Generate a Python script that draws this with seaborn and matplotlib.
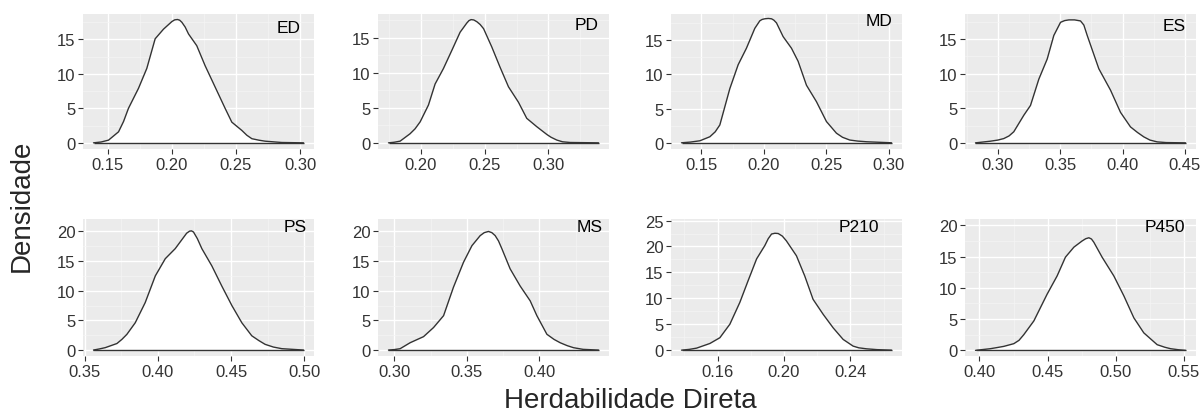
import pandas as pd
import seaborn as sns
import matplotlib.pyplot as plt
from matplotlib.ticker import MultipleLocator, AutoMinorLocator, FormatStrFormatter

# ----- Density curves -----
ed_x = [0.1391, 0.1450, 0.1508, 0.1586, 0.1625, 0.1663, 0.1741, 0.1806, 0.1871, 0.1936, 0.2001, 0.2023,
        0.2045, 0.2062, 0.2079, 0.2105, 0.2131, 0.2195, 0.2260, 0.2338, 0.2416, 0.2468, 0.2546, 0.2585,
        0.2624, 0.2680, 0.2727, 0.2857, 0.3026]
ed_y = [0.0, 0.12, 0.39, 1.6, 3.1, 5.0, 7.9, 10.8, 15.1, 16.5, 17.6, 17.85,
        17.9, 17.8, 17.5, 16.8, 15.8, 14.1, 11.2, 8.1, 5.0, 3.0, 1.8, 1.1,
        0.6, 0.38, 0.24, 0.05, 0.0]

pd_x = [0.1747, 0.1790, 0.1838, 0.1916, 0.1955, 0.1995, 0.2060, 0.2112, 0.2177, 0.2243, 0.2308, 0.2360,
        0.2377, 0.2394, 0.2415, 0.2439, 0.2465, 0.2492, 0.2556, 0.2621, 0.2687, 0.2765, 0.2830, 0.2909,
        0.2987, 0.3020, 0.3065, 0.3110, 0.3170, 0.3392]
pd_y = [0.0, 0.08, 0.24, 1.3, 2.0, 3.0, 5.4, 8.4, 10.6, 13.2, 15.8, 17.1,
        17.45, 17.6, 17.55, 17.3, 16.9, 16.3, 13.7, 10.8, 8.0, 5.8, 3.5, 2.3,
        1.2, 0.8, 0.4, 0.15, 0.05, 0.0]

md_x = [0.1340, 0.1410, 0.1487, 0.1567, 0.1610, 0.1647, 0.1727, 0.1794, 0.1860, 0.1927, 0.1967, 0.1985,
        0.2007, 0.2035, 0.2061, 0.2080, 0.2101, 0.2154, 0.2221, 0.2274, 0.2341, 0.2421, 0.2501, 0.2581,
        0.2630, 0.2688, 0.2750, 0.2822, 0.3022]
md_y = [0.0, 0.1, 0.29, 0.88, 1.6, 2.6, 7.9, 11.4, 13.8, 16.7, 17.8, 18.0,
        18.1, 18.15, 18.1, 17.9, 17.5, 15.5, 13.8, 11.9, 8.4, 6.0, 3.1, 1.4,
        0.8, 0.4, 0.25, 0.15, 0.0]

es_x = [0.2821, 0.2941, 0.3000, 0.3048, 0.3090, 0.3128, 0.3209, 0.3262, 0.3329, 0.3396, 0.3449, 0.3503,
        0.3536, 0.3570, 0.3615, 0.3663, 0.3690, 0.3717, 0.3810, 0.3904, 0.3984, 0.4064, 0.4120, 0.4171,
        0.4220, 0.4278, 0.4350, 0.4505]
es_y = [0.0, 0.24, 0.4, 0.62, 1.0, 1.6, 4.0, 5.4, 9.2, 12.1, 15.5, 17.4,
        17.65, 17.75, 17.75, 17.6, 17.0, 15.5, 10.7, 7.6, 4.4, 2.3, 1.5, 0.86,
        0.4, 0.14, 0.04, 0.0]

ps_x = [0.3561, 0.3600, 0.3641, 0.3721, 0.3755, 0.3789, 0.3846, 0.3914, 0.3983, 0.4051, 0.4119, 0.4176,
        0.4197, 0.4217, 0.4230, 0.4244, 0.4270, 0.4301, 0.4369, 0.4437, 0.4506, 0.4574, 0.4642, 0.4690,
        0.4733, 0.4790, 0.4847, 0.4995]
ps_y = [0.0, 0.18, 0.4, 1.1, 1.8, 2.65, 4.6, 8.0, 12.5, 15.4, 17.1, 19.0,
        19.7, 20.05, 20.1, 19.9, 18.8, 17.1, 14.2, 10.8, 7.5, 4.6, 2.4, 1.6,
        0.96, 0.5, 0.23, 0.0]

ms_x = [0.2961, 0.3000, 0.3041, 0.3110, 0.3202, 0.3271, 0.3340, 0.3408, 0.3477, 0.3535, 0.3592, 0.3620,
        0.3649, 0.3672, 0.3695, 0.3718, 0.3741, 0.3798, 0.3867, 0.3936, 0.3982, 0.4051, 0.4100, 0.4142,
        0.4190, 0.4234, 0.4300, 0.4406]
ms_y = [0.0, 0.08, 0.23, 1.24, 2.26, 3.8, 5.8, 10.6, 14.8, 17.6, 19.3, 19.8,
        20.0, 19.8, 19.3, 18.4, 17.1, 13.7, 10.8, 8.3, 5.8, 2.66, 1.8, 1.24,
        0.75, 0.4, 0.12, 0.0]

p210_x = [0.1383, 0.1430, 0.1474, 0.1554, 0.1614, 0.1674, 0.1734, 0.1784, 0.1835, 0.1885, 0.1905, 0.1925,
          0.1945, 0.1965, 0.1990, 0.2014, 0.2075, 0.2125, 0.2175, 0.2236, 0.2296, 0.2356, 0.2416, 0.2450,
          0.2496, 0.2560, 0.2647]
p210_y = [0.0, 0.15, 0.39, 1.29, 2.4, 5.0, 9.2, 13.4, 17.6, 20.2, 21.5, 22.4,
          22.55, 22.5, 22.0, 21.1, 18.2, 14.3, 9.8, 6.9, 4.3, 2.07, 0.78, 0.45,
          0.26, 0.1, 0.0]

p450_x = [0.3971, 0.4081, 0.4130, 0.4179, 0.4252, 0.4290, 0.4325, 0.4399, 0.4497, 0.4570, 0.4631, 0.4693,
          0.4754, 0.4780, 0.4803, 0.4822, 0.4839, 0.4900, 0.4986, 0.5060, 0.5133, 0.5206, 0.5304, 0.5360,
          0.5402, 0.5460, 0.5512]
p450_y = [0.0, 0.27, 0.45, 0.64, 1.07, 1.6, 2.5, 4.7, 9.0, 11.9, 14.9, 16.5,
          17.5, 17.85, 18.0, 17.8, 17.3, 14.9, 11.9, 8.7, 5.2, 2.8, 0.91, 0.5,
          0.27, 0.1, 0.0]

labels = ['ED', 'PD', 'MD', 'ES', 'PS', 'MS', 'P210', 'P450']
x_steps = [0.05, 0.05, 0.05, 0.05, 0.05, 0.05, 0.04, 0.05]
y_tops = [18.7, 18.4, 18.8, 18.6, 22.1, 22.1, 25.3, 21.0]
label_pos = [(0.942, 0.90), (0.953, 0.925), (0.96, 0.95), (0.957, 0.918),
             (0.967, 0.946), (0.974, 0.946), (0.902, 0.946), (0.952, 0.946)]

curves = [(ed_x, ed_y), (pd_x, pd_y), (md_x, md_y), (es_x, es_y),
          (ps_x, ps_y), (ms_x, ms_y), (p210_x, p210_y), (p450_x, p450_y)]

# ggplot-like look
sns.set_theme(style="darkgrid", rc={"axes.facecolor": "#EBEBEB", "grid.color": "white",
                                    "xtick.bottom": True, "ytick.left": True})
plt.rcParams['font.family'] = ['Liberation Sans', 'DejaVu Sans']

fig = plt.figure(figsize=(12, 4.14), dpi=100)

col_left = [83, 378, 671, 965]
row_box = [(15, 150), (220, 357)]

for i, (xs, ys) in enumerate(curves):
    r, c = divmod(i, 4)
    top, bot = row_box[r]
    ax = fig.add_axes([col_left[c] / 1200, 1 - bot / 414, 231 / 1200, (bot - top) / 414])
    df = pd.DataFrame({'x': xs, 'y': ys}).sort_values('x')

    ax.fill_between(df['x'], 0, df['y'], color='white', zorder=2)
    sns.lineplot(data=df, x='x', y='y', ax=ax, color='#333333', linewidth=1.0, zorder=3, sort=True)
    ax.hlines(0, df['x'].min(), df['x'].max(), color='#333333', linewidth=1.0, zorder=3)

    span = df['x'].max() - df['x'].min()
    ax.set_xlim(df['x'].min() - 0.05 * span, df['x'].max() + 0.05 * span)
    ax.set_ylim(-0.05 * df['y'].max(), y_tops[i])

    ax.xaxis.set_major_locator(MultipleLocator(x_steps[i]))
    ax.xaxis.set_major_formatter(FormatStrFormatter('%.2f'))
    ax.yaxis.set_major_locator(MultipleLocator(5))
    ax.xaxis.set_minor_locator(AutoMinorLocator(2))
    ax.yaxis.set_minor_locator(AutoMinorLocator(2))
    ax.grid(which='major', color='white', linewidth=1.0)
    ax.grid(which='minor', color='#F5F5F5', linewidth=0.5)
    ax.tick_params(which='major', length=3.5, width=0.8, color='#333333',
                   labelsize=12, labelcolor='#333333', pad=2)
    ax.tick_params(which='minor', length=0)
    ax.set_xlabel('')
    ax.set_ylabel('')
    for s in ax.spines.values():
        s.set_visible(False)

    lx, ly = label_pos[i]
    ax.text(lx, ly, labels[i], transform=ax.transAxes, ha='right', va='center',
            fontsize=12.5, color='black', zorder=4)

fig.text(0.525, 0.032, 'Herdabilidade Direta', ha='center', va='center', fontsize=20)
fig.text(0.018, 0.502, 'Densidade', ha='center', va='center', rotation=90, fontsize=20)

fig.savefig('out.png', dpi=100)
